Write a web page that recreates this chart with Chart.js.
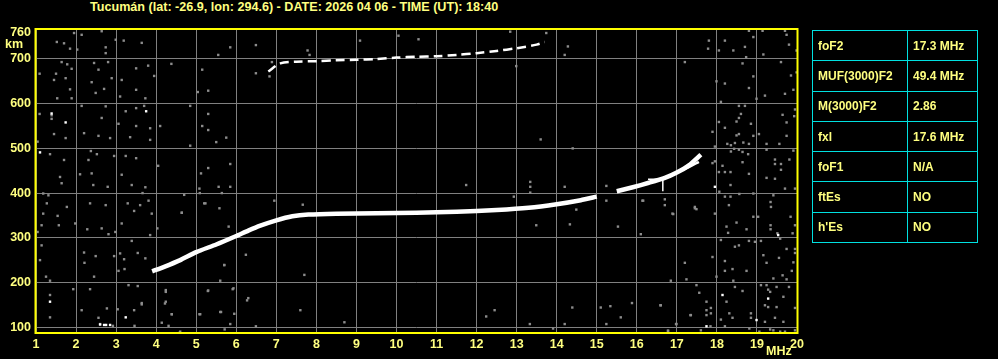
<!DOCTYPE html>
<html lang="es">
<head>
    <meta charset="UTF-8">
    <title>Ionograma Tucumán</title>
    <script src="https://cdn.jsdelivr.net/npm/chart.js"></script>
    <style>
        body { margin: 0; background: #000; width: 998px; height: 359px; overflow: hidden; position: relative; font-family: "Liberation Sans", Arial, sans-serif; }
        #titulo { position: absolute; left: 90px; top: 0px; color: #ffff80; font-weight: bold; font-size: 12.6px; line-height: 14px; white-space: nowrap; }
        #wrap { position: absolute; left: 0; top: 0; width: 998px; height: 359px; }
        #tabla { position: absolute; left: 812px; top: 30px; border-collapse: collapse; }
        #tabla td { border: 1px solid #00e0e0; color: #ffff80; font-weight: bold; font-size: 12px; height: 29.3px; padding: 0 0 0 5px; white-space: nowrap; }
        #tabla td.p { width: 89px; }
        #tabla td.v { width: 64px; }
    </style>
</head>
<body>
    <div id="titulo">Tucumán (lat: -26.9, lon: 294.6) - DATE: 2026 04 06 - TIME (UT): 18:40</div>
    <div id="wrap"><canvas id="ionograma" width="998" height="359"></canvas></div>
    <table id="tabla"></table>
<script>
    // parámetros de la tabla
    var params = ['foF2', 'MUF(3000)F2', 'M(3000)F2', 'fxl', 'foF1', 'ftEs', "h'Es"];
    var valores = ['17.3 MHz', '49.4 MHz', '2.86', '17.6 MHz', 'N/A', 'NO', 'NO'];

    // traza F (modo ordinario), frecuencia en MHz / altura virtual en km
    var trazaF_f = [3.9, 4.2, 4.6, 5.0, 5.5, 6.0, 6.3, 6.6, 7.0, 7.4, 7.8, 8.5, 9.5, 10.5, 11.5, 12.5, 13.3, 14.0, 14.6, 15.0, null, 15.5, 15.9, 16.3, 16.7, 17.0, 17.3, 17.6];
    var trazaF_h = [225, 235, 250, 268, 285, 304, 316, 327, 339, 348, 352, 354, 355, 356, 358, 362, 367, 375, 384, 392, null, 404, 413, 423, 434, 446, 462, 486];
    // rama extraordinaria
    var trazaX_f = [17.0, 17.3, 17.55];
    var trazaX_h = [447, 458, 470];
    // segundo salto (2F)
    var traza2F_f = [6.8, 7.1, 7.5, 8.0, 8.5, 9.0, 9.5, 10.0, 10.5, 11.0, 11.5, 12.0, 12.5, 13.0, 13.5, 13.7];
    var traza2F_h = [672, 690, 694, 695, 697, 698, 700, 703, 705, 706, 709, 713, 718, 724, 732, 738];
    // marcador foF2
    var marca_f = [16.28, 16.65, 16.65];
    var marca_h = [431, 431, 404];

    // ticks
    var ticksX = [1, 2, 3, 4, 5, 6, 7, 8, 9, 10, 11, 12, 13, 14, 15, 16, 17, 18, 19, 20];
    var ticksY = [100, 200, 300, 400, 500, 600, 700, 760];

    // ruido (puntos grises) [MHz, km]
    var ruido = [
        [1.95,758],[2.14,754],[2.64,762],[1.70,735],[1.52,738],[1.85,723],[2.03,721],[2.74,726],[2.74,713],[2.99,743],
        [3.19,741],[3.64,736],[5.55,709],[5.85,726],[1.64,693],[1.78,688],[1.89,678],[1.09,667],[1.50,667],[2.45,691],
        [2.56,676],[2.80,693],[3.50,679],[3.80,685],[3.95,662],[4.38,689],[5.15,676],[1.45,653],[1.74,657],[1.85,632],
        [1.53,612],[1.89,612],[2.39,648],[2.49,624],[2.70,633],[2.89,657],[3.14,653],[3.50,631],[3.10,616],[3.73,612],
        [5.04,626],[5.30,629],[1.09,577],[1.39,574],[1.39,566],[2.14,595],[2.74,594],[2.64,568],[3.06,555],[3.24,583],[3.50,590],
        [3.70,595],[3.50,550],[3.85,545],[4.10,550],[4.85,595],[5.30,577],[5.15,550],[5.30,541],[5.75,524],[5.50,514],
        [1.04,515],[1.45,532],[1.74,523],[2.20,534],[2.56,528],[2.85,523],[3.35,525],[3.85,519],[4.85,506],[1.35,487],
        [1.70,474],[2.37,494],[2.52,487],[2.31,474],[2.95,483],[3.24,483],[3.50,478],[4.05,461],[5.30,456],[5.85,465],
        [5.12,444],[1.60,436],[2.10,442],[2.39,444],[3.14,441],
        [1.64,422],[2.43,418],[2.79,414],[3.39,418],[3.73,413],[5.08,410],[5.56,414],[5.85,414],[1.18,399],[1.31,395],
        [1.27,377],[1.77,369],[2.35,377],[2.74,373],[3.29,377],[3.60,373],[3.81,383],[3.45,360],[3.89,354],[4.64,356],
        [5.23,377],[5.58,366],[1.18,354],[1.54,349],[1.57,328],[1.14,328],[1.04,313],[1.98,332],[2.28,319],[2.64,321],
        [2.81,308],[2.98,313],[3.14,332],[3.39,293],[3.85,306],[4.03,321],[1.14,283],[1.10,250],[2.20,267],[2.49,259],
        [2.95,259],[3.10,265],[3.20,252],[3.54,266],[3.73,254],[2.21,244],[3.06,226],[3.21,230],[2.45,213],[1.25,213],
        [1.35,204],[5.70,239],[5.60,204],[1.93,185],[2.35,185],[3.31,194],[3.54,192],[1.35,172],[2.14,138],[2.56,121],
        [2.77,142],[3.04,140],[3.45,138],[3.64,151],[4.24,179],[4.24,157],[4.39,129],[4.14,110],[1.35,122],[2.60,107],
        [2.92,103],[3.46,103],[4.31,103],[5.08,129],[5.29,181],[5.60,134],[5.71,95],[4.60,90],[5.93,187],
        [3.64,154],[4.22,153],[4.39,129],[5.10,129],[5.62,134],[5.95,130],[5.85,107],[6.49,102],[7.60,138],[8.70,111],
        [4.59,88],[6.27,160],[12.24,124],[12.45,138],[13.33,107],[13.91,97],[14.20,107],[14.39,144],[15.10,144],[15.34,147],
        [15.24,107],[15.60,122],[15.88,154],[16.59,149],[16.78,92],[16.98,107],[17.34,127],
        [6.49,731],[6.49,668],[6.83,661],[6.89,693],[7.83,709],[7.78,719],[9.09,741],[12.84,761],[12.99,684],[13.74,758],
        [14.20,709],[14.28,728],[11.74,418],[13.34,425],[13.34,414],[13.34,401],[14.20,414],[12.93,392],[13.49,328],[14.49,363],
        [14.33,330],[15.24,383],[15.24,416],[15.53,325],[16.16,383],[16.89,354],[17.45,366],
        [3.66,400],[4.70,396],[5.09,400],[5.64,400],[5.20,377],[4.64,356],[6.95,383],[7.66,374],[5.81,325],[6.24,262],
        [7.70,217],[5.70,239],[5.30,182],[5.91,185],[6.30,165],[4.24,183],[14.40,500],[13.60,520],[10.05,752],[10.55,744],
        [17.80,741],[17.78,723],[18.20,741],[18.05,719],[18.41,719],[18.70,727],[18.73,704],[18.80,763],[18.91,749],[19.14,763],
        [19.16,710],[19.70,763],[19.74,754],[19.80,732],[19.99,719],[17.20,693],[18.64,690],[19.60,693],[18.91,661],[19.85,663],
        [19.99,670],[17.99,650],[18.20,645],[18.80,635],[19.20,618],[19.70,622],[19.91,631],[18.99,611],[18.10,604],[18.55,595],
        [18.70,595],[18.60,577],[18.55,568],[18.49,560],[18.85,555],[18.05,559],[18.20,546],[17.89,537],[18.49,529],[18.55,532],
        [18.91,528],[19.05,532],[19.64,575],[19.74,558],[19.95,587],[19.93,572],[19.74,528],[18.66,513],[18.45,512],[18.80,510],
        [18.26,510],[18.35,507],[19.24,510],[19.56,510],[17.95,504],[18.35,493],[18.55,497],[18.64,492],[18.78,487],[18.43,499],
        [19.24,497],[19.91,495],[17.89,467],[17.95,471],[18.14,461],[18.05,447],[18.20,447],[18.34,447],[18.64,469],[18.80,443],
        [19.45,475],[19.45,465],[19.60,465],[19.60,452],[19.81,475],[19.24,434],[19.45,432],
        [18.34,418],[18.06,403],[18.20,392],[18.34,392],[18.56,398],[18.91,399],[19.41,395],[19.70,410],[19.95,410],[16.14,383],
        [16.70,386],[16.70,373],[17.45,369],[17.49,364],[17.95,354],[18.30,373],[19.34,380],[19.35,369],[18.91,347],[19.03,347],
        [19.84,347],[16.91,353],[18.49,334],[18.74,319],[18.24,325],[18.28,311],[19.34,328],[19.34,319],[19.51,310],[19.89,310],
        [19.95,328],[16.10,308],[18.10,295],[18.80,293],[18.95,291],[19.10,293],[19.58,298],[18.55,283],[18.45,280],[19.74,275],
        [19.95,275],[19.95,266],[19.16,261],[19.55,255],[19.91,245],[19.24,244],[17.89,257],[18.20,248],[17.20,244],[18.20,226],
        [18.39,230],[18.74,226],[19.87,226],[19.64,216],[19.41,209],[19.74,207],[16.85,204],[17.24,207],[18.41,204],[17.99,213],
        [19.10,194],[19.24,194],[19.49,190],[19.80,190],[17.49,194],[18.45,190],[18.64,181],[19.28,184],[19.33,179],[17.56,177],
        [19.66,168],[18.24,157],[17.74,157],[16.60,149],[17.85,143],[17.74,138],[19.20,149],[19.28,145],[19.49,145],[19.95,143],
        [18.31,131],[18.10,117],[18.39,121],[18.85,131],[18.85,121],[17.35,127],[17.74,127],[17.85,131],[19.20,112],[19.45,121],
        [19.66,112],[17.84,102],[18.20,102],[17.60,93],[16.99,107],[16.78,92],[19.33,95],[19.41,93],[19.06,90],[19.95,93],
        [18.81,97],[19.70,90],[19.58,90]
    ];
    // puntos blancos sueltos
    var ruidoBlanco = [[1.39,578],[1.74,558],[1.10,491],[3.75,583],[1.35,157],[3.24,122],[2.70,105],[2.85,105],
        [17.95,414],[19.53,306],[18.14,172],[19.28,164],[18.99,116],[17.74,102],[2.6,106],[2.75,105]];

    function pares(fs, hs) {
        return fs.map(function (f, i) { return f === null ? { x: null, y: null } : { x: f, y: hs[i] }; });
    }
    function objs(lista) {
        return lista.map(function (p) { return { x: p[0], y: p[1] }; });
    }

    // tabla de parámetros
    var tabla = document.getElementById('tabla');
    params.forEach(function (p, i) {
        var tr = document.createElement('tr');
        tr.innerHTML = '<td class="p">' + p + '</td><td class="v">' + valores[i] + '</td>';
        tabla.appendChild(tr);
    });

    var amarillo = '#ffff80';
    var fuente = { family: 'Liberation Sans', size: 12.5, weight: 'bold' };

    // borde amarillo y etiquetas "km" / "MHz"
    var marco = {
        id: 'marco',
        afterDraw: function (chart) {
            var a = chart.chartArea, ctx = chart.ctx;
            ctx.save();
            ctx.strokeStyle = '#ffff00';
            ctx.lineWidth = 2;
            ctx.strokeRect(a.left - 0.5, a.top, a.right - a.left + 1, a.bottom - a.top);
            ctx.fillStyle = amarillo;
            ctx.font = 'bold 12.5px "Liberation Sans"';
            ctx.textAlign = 'left';
            ctx.textBaseline = 'middle';
            ctx.fillText('km', 5, 45);
            ctx.fillText('MHz', 766, 352);
            ctx.restore();
        }
    };

    new Chart(document.getElementById('ionograma').getContext('2d'), {
        type: 'scatter',
        data: {
            datasets: [
                {
                    label: 'F',
                    type: 'line',
                    data: pares(trazaF_f, trazaF_h),
                    borderColor: '#ffffff',
                    borderWidth: 4.5,
                    pointRadius: 0,
                    tension: 0.2,
                    spanGaps: false,
                    order: 1
                },
                {
                    label: 'X',
                    type: 'line',
                    data: pares(trazaX_f, trazaX_h),
                    borderColor: '#ffffff',
                    borderWidth: 2.5,
                    pointRadius: 0,
                    tension: 0.3,
                    order: 1
                },
                {
                    label: '2F',
                    type: 'line',
                    data: pares(traza2F_f, traza2F_h),
                    borderColor: '#ffffff',
                    borderWidth: 2.5,
                    borderDash: [9, 5],
                    pointRadius: 0,
                    tension: 0.3,
                    order: 1
                },
                {
                    label: 'foF2',
                    type: 'line',
                    data: pares(marca_f, marca_h),
                    borderColor: '#ffffff',
                    borderWidth: 1.5,
                    pointRadius: 0,
                    tension: 0,
                    order: 1
                },
                {
                    label: 'blanco',
                    data: objs(ruidoBlanco),
                    pointStyle: 'rect',
                    pointRadius: 1.7,
                    borderWidth: 0,
                    backgroundColor: '#ffffff',
                    order: 2
                },
                {
                    label: 'ruido',
                    data: objs(ruido),
                    pointStyle: 'rect',
                    pointRadius: 1.7,
                    borderWidth: 0,
                    backgroundColor: '#8c8c8c',
                    order: 3
                }
            ]
        },
        options: {
            responsive: false,
            animation: false,
            events: [],
            layout: { padding: { left: 0, top: 29, right: 201, bottom: 0 } },
            plugins: { legend: { display: false }, tooltip: { enabled: false } },
            scales: {
                x: {
                    type: 'linear',
                    min: 1,
                    max: 20,
                    afterFit: function (s) { s.height = 26; },
                    afterBuildTicks: function (s) { s.ticks = ticksX.map(function (v) { return { value: v }; }); },
                    grid: { color: '#808080', lineWidth: 1, drawTicks: false },
                    border: { display: false },
                    ticks: { color: amarillo, font: fuente, padding: 4, maxRotation: 0, autoSkip: false }
                },
                y: {
                    type: 'linear',
                    min: 87,
                    max: 767,
                    afterFit: function (s) { s.width = 36; },
                    afterBuildTicks: function (s) { s.ticks = ticksY.map(function (v) { return { value: v }; }); },
                    grid: {
                        color: function (c) { return c.tick && c.tick.value === 760 ? 'rgba(0,0,0,0)' : '#808080'; },
                        lineWidth: 1,
                        drawTicks: false
                    },
                    border: { display: false },
                    ticks: { color: amarillo, font: fuente, padding: 5, autoSkip: false }
                }
            }
        },
        plugins: [marco]
    });
</script>
</body>
</html>
